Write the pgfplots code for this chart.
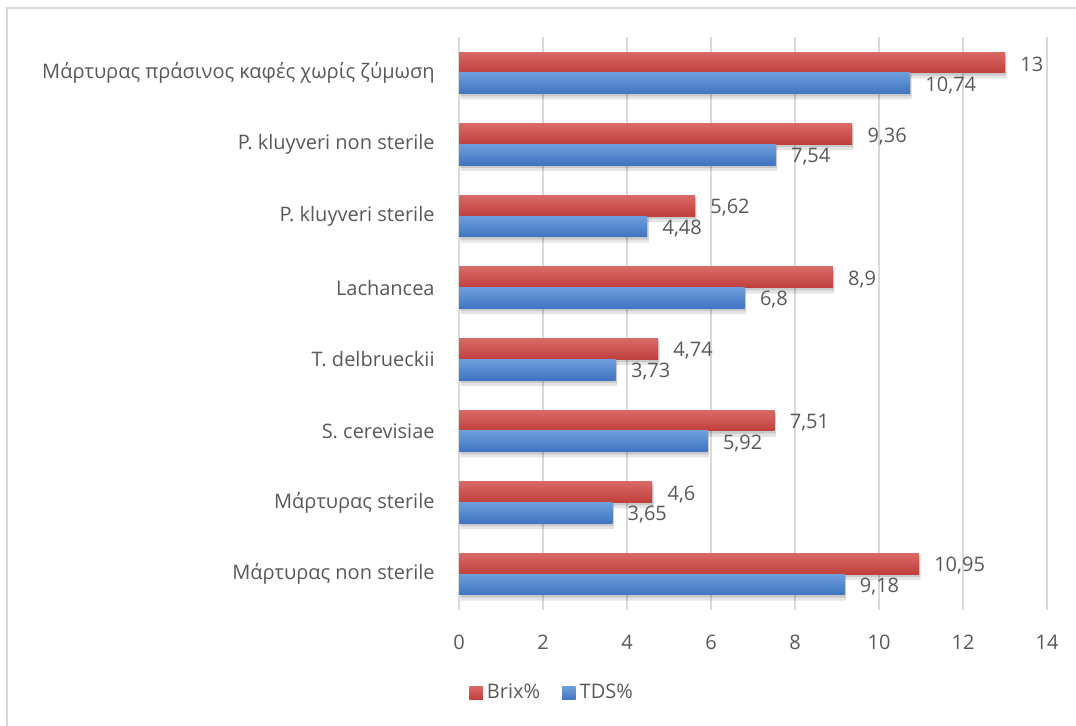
\documentclass[border=0pt]{standalone}
\usepackage{fontspec}
\setmainfont{Open Sans}
\usepackage{pgfplots}
\pgfplotsset{compat=1.18}

\definecolor{txt}{HTML}{595959}
\definecolor{gridc}{HTML}{D9D9D9}
\definecolor{redT}{HTML}{D96966}
\definecolor{redB}{HTML}{BF3F3C}
\definecolor{bluT}{HTML}{6E9EDB}
\definecolor{bluB}{HTML}{3F74C1}

\newcommand\lblfont{\fontsize{10}{12}\selectfont}

\pgfplotsset{
  valuelabels/.style={
    point meta=x,
    nodes near coords={\pgfmathprintnumber{\pgfplotspointmeta}},
    every node near coord/.append style={anchor=west, inner sep=0pt,
       xshift=7.5pt, yshift=-1pt, font=\lblfont, text=txt}},
  sqlegend/.style={legend image code/.code={%
      \path[##1] (0pt,-3.4pt) rectangle (6.8pt,3.4pt);}},
  brix/.style={draw=none, top color=redT, bottom color=redB,
      bar shift=5.175pt, sqlegend},
  tds/.style={draw=none, top color=bluT, bottom color=bluB,
      bar shift=-5.175pt, sqlegend},
  shadowA/.style={forget plot, draw=none, fill=black, fill opacity=0.10,
      bar width=12.6pt, xshift=0.8pt, yshift=-1.8pt},
  shadowB/.style={forget plot, draw=none, fill=black, fill opacity=0.12,
      bar width=10.35pt, xshift=0.6pt, yshift=-1.4pt},
}

\begin{document}
\begin{tikzpicture}[x=1pt,y=1pt]
\path[use as bounding box] (0,0) rectangle (538,-363);
\draw[gridc, line width=0.7pt] (3.5,-363) -- (3.5,-4) -- (538,-4);
\begin{axis}[
  at={(229.5pt,-305pt)}, anchor=south west,
  scale only axis, width=294pt, height=286.5pt,
  xmin=0, xmax=14, ymin=-0.5, ymax=7.5,
  xtick={0,2,...,14}, ytick={0,...,7},
  yticklabels={Μάρτυρας non sterile, Μάρτυρας sterile, S. cerevisiae,
    T. delbrueckii, Lachancea, P. kluyveri sterile,
    P. kluyveri non sterile, Μάρτυρας πράσινος καφές χωρίς ζύμωση},
  xmajorgrids, major grid style={gridc, line width=0.7pt},
  axis line style={draw=none}, major tick length=0pt,
  tick label style={font=\lblfont, text=txt},
  xticklabel style={anchor=north, inner sep=0pt, yshift=-12.5pt},
  yticklabel style={anchor=east, inner sep=0pt, xshift=-12pt},
  /pgf/number format/assume math mode=true,
  /pgf/number format/use comma,
  /pgf/number format/1000 sep={},
  xbar, bar width=10.35pt,
  legend columns=2,
  legend style={at={(0.16,-0.145)}, anchor=center, draw=none, fill=none,
     font=\lblfont, text=txt, inner sep=0pt,
     /tikz/every even column/.style={column sep=9pt}},
]
% soft shadows under the bars
\addplot[shadowA, bar shift=5.175pt]
  coordinates {(10.95,0) (4.6,1) (7.51,2) (4.74,3) (8.9,4) (5.62,5) (9.36,6) (13,7)};
\addplot[shadowB, bar shift=5.175pt]
  coordinates {(10.95,0) (4.6,1) (7.51,2) (4.74,3) (8.9,4) (5.62,5) (9.36,6) (13,7)};
\addplot[shadowA, bar shift=-5.175pt]
  coordinates {(9.18,0) (3.65,1) (5.92,2) (3.73,3) (6.8,4) (4.48,5) (7.54,6) (10.74,7)};
\addplot[shadowB, bar shift=-5.175pt]
  coordinates {(9.18,0) (3.65,1) (5.92,2) (3.73,3) (6.8,4) (4.48,5) (7.54,6) (10.74,7)};

% Brix% -- one bar per plot so each bar gets its own gradient
\addplot[brix, valuelabels] coordinates {(10.95,0)};
\addlegendentry{Brix\%}
\addplot[brix, valuelabels, forget plot] coordinates {(4.6,1)};
\addplot[brix, valuelabels, forget plot] coordinates {(7.51,2)};
\addplot[brix, valuelabels, forget plot] coordinates {(4.74,3)};
\addplot[brix, valuelabels, forget plot] coordinates {(8.9,4)};
\addplot[brix, valuelabels, forget plot] coordinates {(5.62,5)};
\addplot[brix, valuelabels, forget plot] coordinates {(9.36,6)};
\addplot[brix, valuelabels, forget plot] coordinates {(13,7)};

% TDS%
\addplot[tds, valuelabels] coordinates {(9.18,0)};
\addlegendentry{TDS\%}
\addplot[tds, valuelabels, forget plot] coordinates {(3.65,1)};
\addplot[tds, valuelabels, forget plot] coordinates {(5.92,2)};
\addplot[tds, valuelabels, forget plot] coordinates {(3.73,3)};
\addplot[tds, valuelabels, forget plot] coordinates {(6.8,4)};
\addplot[tds, valuelabels, forget plot] coordinates {(4.48,5)};
\addplot[tds, valuelabels, forget plot] coordinates {(7.54,6)};
\addplot[tds, valuelabels, forget plot] coordinates {(10.74,7)};
\end{axis}
\end{tikzpicture}
\end{document}
